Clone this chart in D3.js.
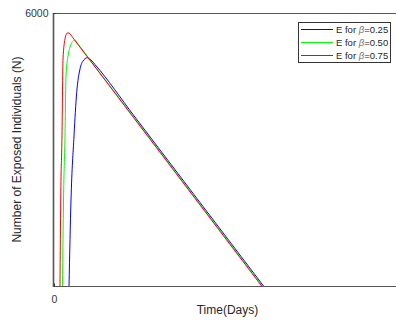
<!DOCTYPE html>
<html><head><meta charset="utf-8">
<script src="https://cdn.jsdelivr.net/npm/d3@7"></script>
<style>body{margin:0;background:#fff}svg{display:block;font-family:"Liberation Sans",Arial,sans-serif}</style>
</head><body><svg id="c" width="396" height="320"></svg>
<script>
const xDomain = [0, 86.75];
const yDomain = [0, 6000];
const xTicks = [0];
const yTicks = [6000];
const seriesNames = ["E for β=0.25", "E for β=0.50", "E for β=0.75"];
const betaValues = ["0.25", "0.50", "0.75"];
const seriesColors = ["#0000ff", "#00ff00", "#ff0000"];
const daysB025 = [3.75, 4.25, 5.0, 5.67, 6.5, 7.25, 8.33, 9.25, 10.25, 20, 35, 52.38];
const valsB025 = [0, 1890, 3297, 4248, 4769, 4945, 5017, 4967, 4868, 3741, 2008, 0];
const daysB050 = [2.12, 2.38, 2.75, 3.0, 3.5, 4.0, 4.62, 5.25, 6.0, 20, 35, 52.12];
const valsB050 = [0, 1890, 3297, 4615, 5055, 5253, 5374, 5407, 5319, 3704, 1974, 0];
const daysB075 = [1.5, 1.68, 2.0, 2.25, 2.75, 3.12, 3.5, 4.0, 5.0, 20, 35, 51.9];
const valsB075 = [0, 1890, 3297, 4989, 5429, 5538, 5567, 5538, 5422, 3688, 1954, 0];
const seriesDays = [daysB025, daysB050, daysB075];
const seriesVals = [valsB025, valsB050, valsB075];

const L = 54, R = 401, T = 13, B = 286;
const svg = d3.select("#c");
const x = d3.scaleLinear().domain(xDomain).range([L, R]);
const y = d3.scaleLinear().domain(yDomain).range([B, T]);

svg.append("defs").append("clipPath").attr("id","clip")
  .append("rect").attr("x",L).attr("y",T).attr("width",R-L).attr("height",B-T);

const line = d3.line().x(d=>x(d[0])).y(d=>y(d[1])).curve(d3.curveMonotoneX);
const plot = svg.append("g").attr("clip-path","url(#clip)");
seriesDays.forEach((ds,i)=>{
  const pts = ds.map((d,j)=>[d, seriesVals[i][j]]);
  plot.append("path").attr("d", line(pts)).attr("fill","none")
    .attr("stroke", seriesColors[i]).attr("stroke-width",1);
});

// axes box
const axCol = "#555";
svg.append("line").attr("x1",L).attr("x2",R).attr("y1",T+0.5).attr("y2",T+0.5).attr("stroke",axCol);
svg.append("line").attr("x1",L).attr("x2",R).attr("y1",B+0.5).attr("y2",B+0.5).attr("stroke",axCol);
svg.append("line").attr("x1",L-0.5).attr("x2",L-0.5).attr("y1",T).attr("y2",B+1).attr("stroke",axCol).attr("stroke-width",1.6);

const xAxis = d3.axisBottom(x).tickValues(xTicks).tickSize(-3).tickPadding(9).tickFormat(d3.format("d"));
const gx = svg.append("g").attr("transform",`translate(0,${B+0.5})`).call(xAxis);
const yAxis = d3.axisLeft(y).tickValues(yTicks).tickSize(-3).tickPadding(5).tickFormat(d3.format("d"));
const gy = svg.append("g").attr("transform",`translate(${L-0.5},0)`).call(yAxis);
[gx, gy].forEach(g=>{
  g.select(".domain").remove();
  g.selectAll(".tick line").attr("stroke","#333");
  g.selectAll(".tick text").attr("fill","#333").style("font-size","10.5px").style("font-family","'Liberation Sans',Arial,sans-serif");
});

svg.append("text").attr("x",(L+R)/2).attr("y",314).attr("text-anchor","middle")
  .attr("fill","#262626").style("font-size","12px").text("Time(Days)");
svg.append("text").attr("transform",`translate(21,${(T+B)/2}) rotate(-90)`).attr("text-anchor","middle")
  .attr("fill","#262626").style("font-size","12px").text("Number of Exposed Individuals (N)");

// legend
const lg = svg.append("g");
lg.append("rect").attr("x",298.5).attr("y",22.5).attr("width",92).attr("height",40)
  .attr("fill","#fff").attr("stroke","#333").attr("stroke-width",1);
seriesNames.forEach((n,i)=>{
  const yy = 29.5 + i*13;
  lg.append("line").attr("x1",301).attr("x2",333).attr("y1",yy).attr("y2",yy)
    .attr("stroke",seriesColors[i]).attr("stroke-width",1);
  const t = lg.append("text").attr("x",336).attr("y",yy+3.5).attr("fill","#262626").style("font-size","9.5px");
  t.append("tspan").text("E for ");
  t.append("tspan").attr("fill","#777").style("font-style","italic").text("β");
  t.append("tspan").text("=" + betaValues[i]);
});
</script></body></html>
